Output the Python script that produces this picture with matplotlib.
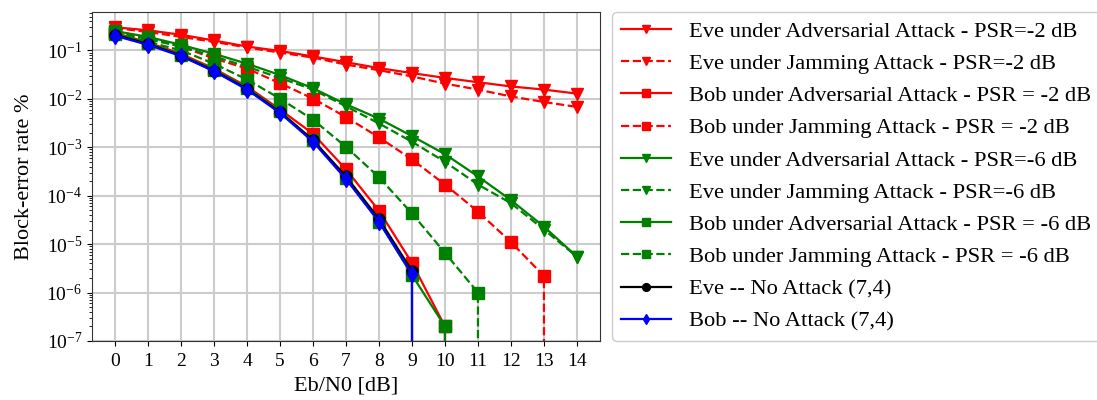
import numpy as np
import matplotlib
matplotlib.use("Agg")
import matplotlib.pyplot as plt

plt.rcParams['font.family'] = ['Liberation Serif', 'DejaVu Serif']
plt.rcParams['mathtext.fontset'] = 'custom'
plt.rcParams['mathtext.rm'] = 'Liberation Serif'
plt.rcParams['mathtext.it'] = 'Liberation Serif:italic'
plt.rcParams['mathtext.bf'] = 'Liberation Serif:bold'

ebn0 = list(range(15))

eve_adv_m2 = [0.30, 0.26, 0.21, 0.16, 0.12, 0.097, 0.075, 0.057, 0.043, 0.034, 0.027, 0.022, 0.018, 0.0155, 0.0128]
eve_jam_m2 = [0.29, 0.24, 0.19, 0.15, 0.115, 0.09, 0.071, 0.051, 0.039, 0.029, 0.0206, 0.0155, 0.0112, 0.0086, 0.0068]
bob_adv_m2 = [0.23, 0.145, 0.085, 0.042, 0.018, 0.006, 0.0019, 0.00035, 4.9e-5, 4.1e-6, 2e-7, 0]
bob_jam_m2 = [0.25, 0.18, 0.12, 0.068, 0.042, 0.021, 0.0101, 0.0042, 0.0016, 0.00056, 0.00017, 4.7e-5, 1.1e-5, 2.2e-6, 0]
eve_adv_m6 = [0.25, 0.19, 0.13, 0.085, 0.053, 0.031, 0.0165, 0.0077, 0.0039, 0.0017, 0.00072, 0.00025, 8.1e-5, 2.3e-5, 5.5e-6]
eve_jam_m6 = [0.24, 0.17, 0.12, 0.075, 0.046, 0.027, 0.0155, 0.007, 0.0031, 0.0013, 0.0005, 0.00017, 7e-5, 2e-5, 5.5e-6]
bob_adv_m6 = [0.22, 0.14, 0.08, 0.04, 0.017, 0.0055, 0.0014, 0.00023, 2.9e-5, 2.3e-6, 2e-7, 0]
bob_jam_m6 = [0.23, 0.15, 0.10, 0.053, 0.025, 0.0101, 0.0037, 0.00102, 0.00024, 4.3e-5, 6.6e-6, 1e-6, 0]
eve_none = [0.21, 0.135, 0.078, 0.038, 0.016, 0.0053, 0.0014, 0.00025, 3.3e-5, 2.8e-6, 0]
bob_none = [0.20, 0.13, 0.076, 0.037, 0.0155, 0.0051, 0.0013, 0.00022, 2.9e-5, 2.4e-6, 0]

series = [
    (eve_adv_m2, 'Eve under Adversarial Attack - PSR=-2 dB', '#ff0000', '-', 'v'),
    (eve_jam_m2, 'Eve under Jamming Attack - PSR=-2 dB', '#ff0000', '--', 'v'),
    (bob_adv_m2, 'Bob under Adversarial Attack - PSR = -2 dB', '#ff0000', '-', 's'),
    (bob_jam_m2, 'Bob under Jamming Attack - PSR = -2 dB', '#ff0000', '--', 's'),
    (eve_adv_m6, 'Eve under Adversarial Attack - PSR=-6 dB', '#008000', '-', 'v'),
    (eve_jam_m6, 'Eve under Jamming Attack - PSR=-6 dB', '#008000', '--', 'v'),
    (bob_adv_m6, 'Bob under Adversarial Attack - PSR = -6 dB', '#008000', '-', 's'),
    (bob_jam_m6, 'Bob under Jamming Attack - PSR = -6 dB', '#008000', '--', 's'),
    (eve_none, 'Eve -- No Attack (7,4)', '#000000', '-', 'o'),
    (bob_none, 'Bob -- No Attack (7,4)', '#0000ff', '-', 'd'),
]

fig = plt.figure(figsize=(10.97, 4.0), dpi=100)
ax = fig.add_axes([92/1097, 59/400, 508/1097, 329/400])

for vals, label, color, ls, mk in series:
    ax.plot(ebn0[:len(vals)], vals, color=color, linestyle=ls, marker=mk,
            markersize=8, linewidth=1.6, label=label)

ax.set_yscale('log')
ax.set_ylim(1e-7, 0.62)
ax.set_xlim(-0.7, 14.7)
ax.set_xticks(ebn0)
ax.grid(True, which='major', color='#cccccc', linewidth=1.5)
ax.set_axisbelow(True)
ax.tick_params(labelsize=14)
ax.tick_params(axis='x', pad=5)
ax.set_xlabel('Eb/N0 [dB]', fontsize=16, labelpad=5)
ax.set_ylabel('Block-error rate %', fontsize=16, labelpad=9)
for sp in ax.spines.values():
    sp.set_color('#333333')

ax.legend(loc='upper left', bbox_to_anchor=(1.024, 1.0), borderaxespad=0,
          fontsize=16.2, markerscale=0.7, handlelength=2.2, handletextpad=0.8,
          labelspacing=0.51, borderpad=0.4, fancybox=True, framealpha=1,
          edgecolor='#cccccc')

fig.savefig('out.png', dpi=100)
